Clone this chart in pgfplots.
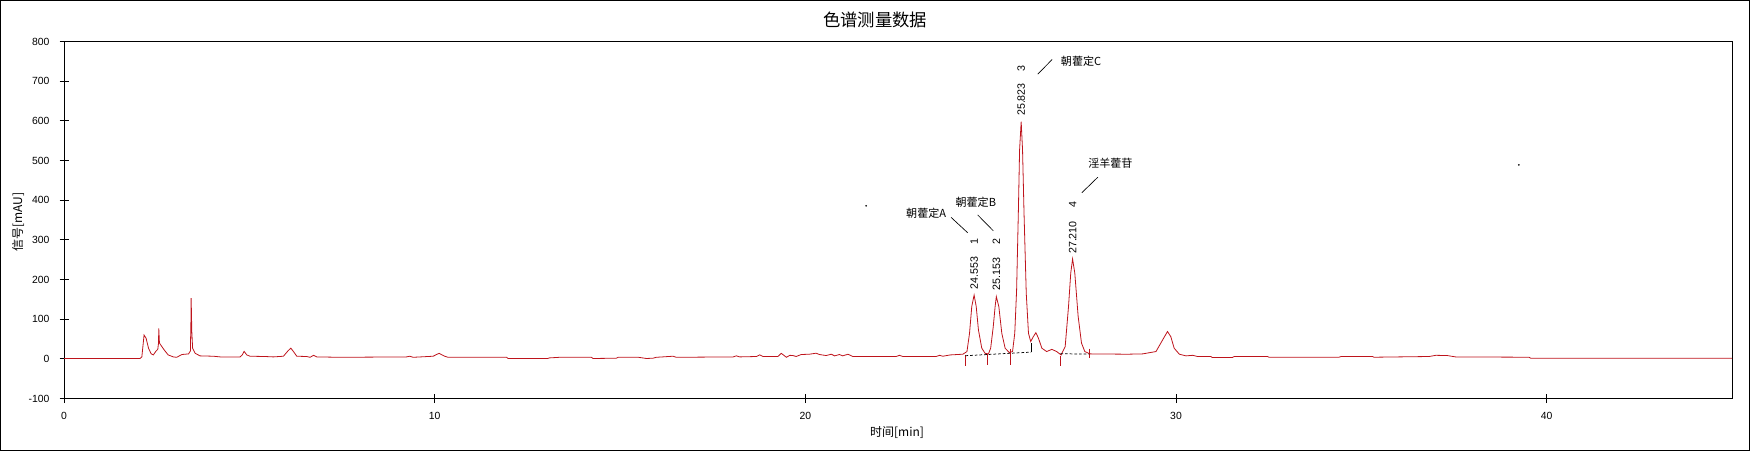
\documentclass[border=0pt]{standalone}
\usepackage{fontspec}
\setmainfont{Liberation Sans}
\newfontfamily\cjk{Noto Sans CJK SC}
\usepackage{pgfplots}
\pgfplotsset{compat=1.18}
\definecolor{trace}{RGB}{190,20,28}
\begin{document}
\begin{tikzpicture}
\useasboundingbox (0,0) rectangle (1312.5pt,-338.25pt);
\draw[line width=0.75pt] (0.375pt,-0.375pt) rectangle (1312.125pt,-337.875pt);
\node[font=\cjk\fontsize{13}{15}\selectfont] at (656.25pt,-15pt) {色谱测量数据};
\node[font=\cjk\fontsize{9}{11}\selectfont, rotate=90] at (13.5pt,-166.5pt) {信号[mAU]};
\node[font=\cjk\fontsize{9}{11}\selectfont] at (672.75pt,-324.75pt) {时间[min]};
\begin{axis}[
  at={(48pt,-298.9pt)}, anchor=south west,
  scale only axis, width=1251pt, height=267.7pt,
  xmin=0, xmax=45, ymin=-100, ymax=800,
  xtick={0,10,20,30,40}, ytick={-100,0,100,200,300,400,500,600,700,800},
  xtick pos=bottom, ytick pos=left,
  tick align=center, major tick length=6.75pt,
  axis line style={line width=0.75pt},
  every tick/.style={black, line width=0.75pt},
  tick label style={font=\fontsize{7.8}{9}\selectfont, /pgf/number format/assume math mode=true},
  yticklabel style={xshift=-4pt},
  xticklabel style={yshift=-3pt},
  clip=false,
]
\addplot[trace, line width=0.6pt] coordinates {
(0,1) (2.05,1) (2.10,5) (2.16,60) (2.215,52) (2.28,27) (2.35,13) (2.41,10) (2.485,20) (2.53,24)
(2.55,40) (2.557,77) (2.575,40) (2.61,35) (2.70,23) (2.81,10) (2.95,5) (3.04,4) (3.18,11) (3.36,12.6)
(3.41,20) (3.425,100) (3.43,153) (3.44,110) (3.446,73) (3.47,27) (3.54,14) (3.67,7.6) (4.03,6.7) (4.21,5)
(4.75,5) (4.81,10) (4.86,19) (4.93,10) (5.02,6.7) (5.42,6) (5.65,5) (5.92,6.7) (6.05,21) (6.12,27)
(6.19,18.5) (6.28,6.7) (6.55,6) (6.64,4) (6.73,9) (6.82,5) (7.44,4) (9.24,5) (9.33,6.7) (9.42,4)
(9.96,6.7) (10.05,11) (10.12,14) (10.20,10) (10.27,6.7) (10.36,4) (11.94,4) (11.98,1) (12.83,1) (13.05,1)
(13.1,2.5) (13.37,4) (14.23,4) (14.27,1) (14.9,1.7) (14.95,4) (15.5,4) (15.71,1) (15.89,1.7) (15.98,4)
(16.43,6.7) (16.52,4) (18.05,5) (18.14,7.6) (18.23,5) (18.68,6) (18.77,10) (18.86,6) (19.26,6) (19.35,14)
(19.44,7.6) (19.49,4) (19.58,9) (19.67,8.4) (19.75,6) (19.89,11) (20.11,11.8) (20.29,14.3) (20.38,11) (20.56,8.4)
(20.70,11.8) (20.79,7.6) (20.92,11) (21.01,7.6) (21.15,11.8) (21.28,6) (22.45,6) (22.54,9) (22.63,6) (23.53,6)
(23.62,9) (23.71,6.7) (23.91,10) (24.25,11.8) (24.36,18.5) (24.43,64.7) (24.49,132) (24.553,161) (24.61,132) (24.67,73)
(24.76,27) (24.85,14) (24.94,12.6) (25.00,27) (25.07,81.5) (25.12,132) (25.153,157) (25.22,132) (25.30,64.7) (25.39,27)
(25.50,16) (25.59,18.5) (25.65,64.7) (25.70,174) (25.75,384) (25.78,527) (25.823,598) (25.86,527) (25.90,367) (25.96,165)
(26.02,64.7) (26.08,43.7) (26.15,56) (26.22,66) (26.29,52) (26.38,27) (26.51,18.5) (26.65,24) (26.78,18.5) (26.90,10)
(27.01,31) (27.10,132) (27.16,216) (27.21,252) (27.27,216) (27.36,107) (27.45,40) (27.54,18.5) (27.68,12.6) (28.69,11.8)
(29.10,12.6) (29.46,18.5) (29.64,48) (29.77,69) (29.86,56) (29.95,27) (30.09,11.8) (30.27,7.6) (30.45,9) (30.58,6)
(30.94,6) (30.98,3.4) (31.52,3.4) (31.57,6) (32.47,6) (32.51,4.2) (34.40,4.2) (34.45,6) (35.30,6) (35.34,4.2)
(36.83,6) (37.01,9) (37.32,8.4) (37.54,5) (39.52,4.2) (39.57,1.7) (45,1.7)
};
% peak start/end markers
\addplot[trace, line width=0.6pt] coordinates {(24.32,10) (24.32,-17)};
\addplot[trace, line width=0.6pt] coordinates {(24.91,12) (24.91,-16)};
\addplot[trace, line width=0.6pt] coordinates {(25.54,24) (25.54,-15)};
\addplot[trace, line width=0.6pt] coordinates {(26.88,8) (26.88,-18)};
\addplot[trace, line width=0.6pt] coordinates {(27.67,26) (27.67,3)};
% baselines
\addplot[black, line width=0.55pt, dash pattern=on 2pt off 1.5pt] coordinates {(24.32,8) (26.09,17)};
\addplot[black, line width=0.55pt, dash pattern=on 2pt off 1.5pt] coordinates {(26.88,13) (27.67,12)};
\addplot[black, line width=0.6pt] coordinates {(26.09,17) (26.09,40)};
% stray dots
\addplot[only marks, mark=*, mark size=0.4pt, black] coordinates {(21.64,386) (39.25,489)};
% retention time labels
\begin{scope}[every node/.style={font=\fontsize{8}{9}\selectfont, rotate=90, inner sep=0pt}]
\node at (axis cs:24.553,217) {24.553};
\node at (axis cs:24.553,297) {1};
\node at (axis cs:25.153,214) {25.153};
\node at (axis cs:25.153,296) {2};
\node at (axis cs:25.823,654) {25.823};
\node at (axis cs:25.823,733) {3};
\node at (axis cs:27.210,306) {27.210};
\node at (axis cs:27.210,388) {4};
\end{scope}
\begin{scope}[every node/.style={font=\cjk\fontsize{8.3}{10}\selectfont, inner sep=0pt}]
\node at (axis cs:23.26,368) {朝藿定A};
\node at (axis cs:24.60,394) {朝藿定B};
\node at (axis cs:27.44,751) {朝藿定C};
\node at (axis cs:28.23,493) {淫羊藿苷};
\end{scope}
\draw[black, line width=0.5pt] (axis cs:23.93,357) -- (axis cs:24.38,318);
\draw[black, line width=0.5pt] (axis cs:24.65,363) -- (axis cs:25.07,323);
\draw[black, line width=0.5pt] (axis cs:26.27,718) -- (axis cs:26.66,755);
\draw[black, line width=0.5pt] (axis cs:27.46,419) -- (axis cs:27.89,458);
\end{axis}
\end{tikzpicture}
\end{document}
